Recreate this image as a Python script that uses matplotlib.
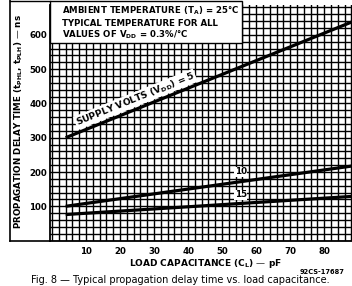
import matplotlib
matplotlib.use("Agg")
import matplotlib.pyplot as plt
from matplotlib.patches import Rectangle
from matplotlib.lines import Line2D

# ---- data ----
load_cap = [4, 90]                 # pF
delay_vdd5 = [300, 645]            # ns
delay_vdd10 = [100, 220]
delay_vdd15 = [76, 130]
xtick_vals = [10, 20, 30, 40, 50, 60, 70, 80]
ytick_vals = [100, 200, 300, 400, 500, 600]

plt.rcParams['font.family'] = ['DejaVu Sans']
plt.rcParams['mathtext.default'] = 'bf'

W, H = 352, 286
fig = plt.figure(figsize=(W / 100, H / 100), dpi=100)

def fx(px):
    return px / W

def fy(py):
    return (H - py) / H

ax = fig.add_axes([fx(50), fy(240.6), fx(352) - fx(50), fy(5) - fy(240.6)])
ax.set_xlim(-0.6, 88.2)
ax.set_ylim(0, 687)

# grid
for xv in range(0, 90, 2):
    ax.axvline(xv, color='black', lw=1.0, zorder=1)
for yv in range(0, 690, 20):
    ax.axhline(yv, color='black', lw=1.0, zorder=1)

# curves
ax.plot(load_cap, delay_vdd5, color='black', lw=2.3, zorder=4, solid_capstyle='butt')
ax.plot(load_cap, delay_vdd10, color='black', lw=2.3, zorder=4, solid_capstyle='butt')
ax.plot(load_cap, delay_vdd15, color='black', lw=2.3, zorder=4, solid_capstyle='butt')

# spines
for s in ['top', 'right']:
    ax.spines[s].set_visible(False)
ax.spines['left'].set_linewidth(1.3)
ax.spines['bottom'].set_linewidth(1.3)

ax.set_xticks(xtick_vals)
ax.set_xticklabels([str(v) for v in xtick_vals], fontsize=6.2, fontweight='bold')
ax.set_yticks(ytick_vals)
ax.set_yticklabels([str(v) for v in ytick_vals], fontsize=6.2, fontweight='bold')
ax.tick_params(axis='x', length=0, pad=4.5)
ax.tick_params(axis='y', length=0, pad=2)

# curve labels
ax.text(24.5, 412, r"SUPPLY VOLTS (V$_{DD}$) = 5", rotation=22, rotation_mode='anchor',
        ha='center', va='center', fontsize=6.6, fontweight='bold', zorder=5,
        bbox=dict(facecolor='white', edgecolor='none', pad=0.6))
ax.text(55.5, 188, "10", ha='center', va='bottom', fontsize=6.3, fontweight='bold', zorder=5,
        bbox=dict(facecolor='white', edgecolor='none', pad=0.3))
ax.text(55.5, 121, "15", ha='center', va='bottom', fontsize=6.3, fontweight='bold', zorder=5,
        bbox=dict(facecolor='white', edgecolor='none', pad=0.3))

# annotation box
box = Rectangle((fx(50), fy(43)), fx(242) - fx(50), fy(1) - fy(43), transform=fig.transFigure,
                facecolor='white', edgecolor='black', lw=1.0, zorder=6)
fig.add_artist(box)
fig.text(fx(62), fy(11), r"AMBIENT TEMPERATURE (T$_{A}$) = 25°C", fontsize=6.2,
         fontweight='bold', va='center', ha='left', zorder=7)
fig.text(fx(62), fy(23), "TYPICAL TEMPERATURE FOR ALL", fontsize=6.2,
         fontweight='bold', va='center', ha='left', zorder=7)
fig.text(fx(62), fy(35), r"VALUES OF V$_{DD}$ = 0.3%/°C", fontsize=6.2,
         fontweight='bold', va='center', ha='left', zorder=7)

# outer frame around y label
fig.add_artist(Line2D([fx(10), fx(10)], [fy(0), fy(240.6)], color='black', lw=1.2))
fig.add_artist(Line2D([fx(10), fx(50)], [fy(240.6), fy(240.6)], color='black', lw=1.2))
fig.add_artist(Line2D([fx(10), fx(50)], [fy(1), fy(1)], color='black', lw=1.0))

# y label
fig.text(fx(19), fy(121), r"PROPAGATION DELAY TIME (t$_{PHL}$, t$_{PLH}$) — ns", rotation=90,
         fontsize=6.3, fontweight='bold', ha='center', va='center')

# x label
fig.text(fx(205), fy(263), r"LOAD CAPACITANCE (C$_{L}$) — pF", fontsize=6.5,
         fontweight='bold', ha='center', va='center')

fig.text(fx(345), fy(272), "92CS-17687", fontsize=4.8, fontweight='bold',
         ha='right', va='center')

fig.text(fx(31), fy(285), "Fig. 8 — Typical propagation delay time vs. load capacitance.",
         fontsize=7.0, ha='left', va='bottom')

fig.savefig("out.png", dpi=100)
